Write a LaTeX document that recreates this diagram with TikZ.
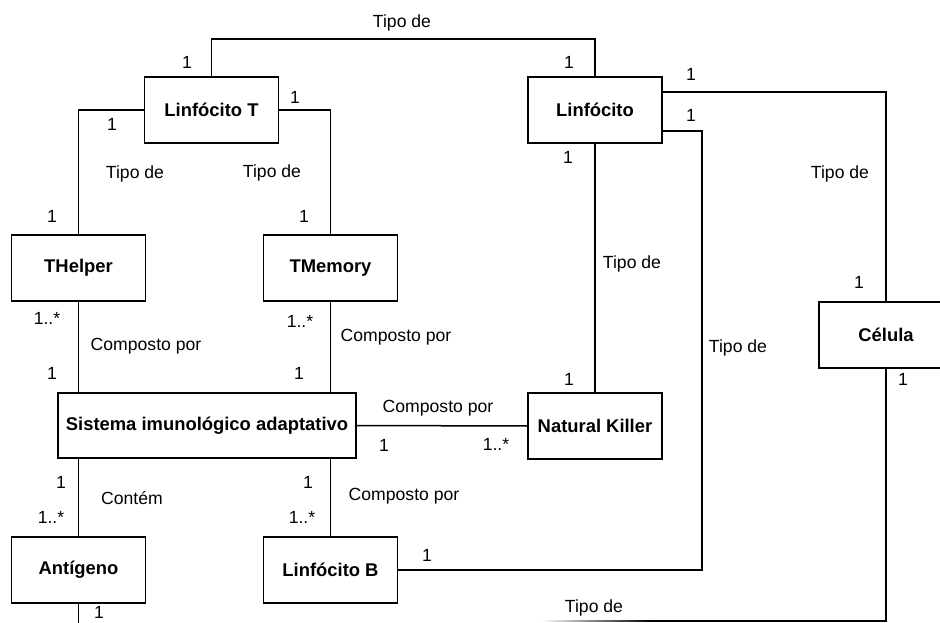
\documentclass[tikz,border=0pt]{standalone}
\usepackage{fontspec}
\setmainfont{Liberation Sans}
\begin{document}
\begin{tikzpicture}[x=1pt,y=-1pt,
  cls/.style={draw, line width=1.5pt, fill=white, minimum width=134pt, minimum height=66pt,
    inner sep=0pt, font=\fontsize{18.4}{21}\selectfont\bfseries},
  lbl/.style={inner sep=0pt, font=\fontsize{17.6}{20}\selectfont},
  conn/.style={line width=1.5pt}]
\useasboundingbox (0,0) rectangle (940,623);
\clip (0,0) rectangle (940,623);

% classes
\node[cls] (lt) at (211.5,110) {Linfócito T};
\node[cls] (lf) at (595,110) {Linfócito};
\node[cls] (th) at (78.5,268) {THelper};
\node[cls] (tm) at (330.5,268) {TMemory};
\node[cls] (ce) at (886,335) {Célula};
\node[cls, minimum width=298pt, minimum height=65pt] (si) at (207,425.5) {Sistema imunológico adaptativo};
\node[cls] (nk) at (595,426) {Natural Killer};
\node[cls] (ag) at (78.5,570) {Antígeno};
\node[cls] (lb) at (330.5,570) {Linfócito B};

% bend points of the routed associations
\coordinate (bendB) at (702,570);
\coordinate (celEnd) at (650,621);
\coordinate (agEnd) at (78.5,623);

% associations
\draw[conn] (lt.north) -- ++(0,-37) -| (lf.north);
\draw[conn] (lt.west) -| (th.north);
\draw[conn] (lt.east) -| (tm.north);
\draw[conn] ([yshift=18pt]lf.east) -| (ce.north);
\draw[conn] ([yshift=-21pt]lf.east) -| (bendB) -- (lb.east);
\draw[conn] (lf.south) -- (nk.north);
\draw[conn] (th.south) -- (th.south |- si.north);
\draw[conn] (tm.south) -- (tm.south |- si.north);
\draw[conn] (si.east) -- (nk.west);
\draw[conn] (ag.north |- si.south) -- (ag.north);
\draw[conn] (lb.north |- si.south) -- (lb.north);
\draw[conn] (ag.south) -- (agEnd);
\draw[conn] (ce.south) |- (celEnd);
% the lower run of the Célula line fades out along the bottom edge
\shade[left color=white, right color=black] (540,620.25) rectangle (650.5,621.75);

% association names
\node[lbl] (n1) at (402,23) {Tipo de};
\node[lbl] (n2) at (135,174) {Tipo de};
\node[lbl] (n3) at (272,173) {Tipo de};
\node[lbl] (n4) at (840,174) {Tipo de};
\node[lbl] (n5) at (632,264) {Tipo de};
\node[lbl] (n6) at (738,348) {Tipo de};
\node[lbl] (n7) at (594,608) {Tipo de};
\node[lbl] (n8) at (146,346) {Composto por};
\node[lbl] (n9) at (396,337) {Composto por};
\node[lbl] (n10) at (438,408) {Composto por};
\node[lbl] (n11) at (404,496) {Composto por};
\node[lbl] (n12) at (132,498) {Contém};

% multiplicities
\node[lbl] (m1) at (187,62) {1};
\node[lbl] (m2) at (295,97) {1};
\node[lbl] (m3) at (112,124) {1};
\node[lbl] (m4) at (52,216) {1};
\node[lbl] (m5) at (304,216) {1};
\node[lbl] (m6) at (569,62) {1};
\node[lbl] (m7) at (691,74) {1};
\node[lbl] (m8) at (691,115) {1};
\node[lbl] (m9) at (568,157) {1};
\node[lbl] (m10) at (859,282) {1};
\node[lbl] (m11) at (47,318) {1..*};
\node[lbl] (m12) at (52,373) {1};
\node[lbl] (m13) at (300,321) {1..*};
\node[lbl] (m14) at (299,373) {1};
\node[lbl] (m15) at (569,379) {1};
\node[lbl] (m16) at (903,379) {1};
\node[lbl] (m17) at (384,445) {1};
\node[lbl] (m18) at (496,444) {1..*};
\node[lbl] (m19) at (61,482) {1};
\node[lbl] (m20) at (51,517) {1..*};
\node[lbl] (m21) at (308,482) {1};
\node[lbl] (m22) at (302,517) {1..*};
\node[lbl] (m23) at (427,555) {1};
\node[lbl] (m24) at (99,612) {1};
\end{tikzpicture}
\end{document}
